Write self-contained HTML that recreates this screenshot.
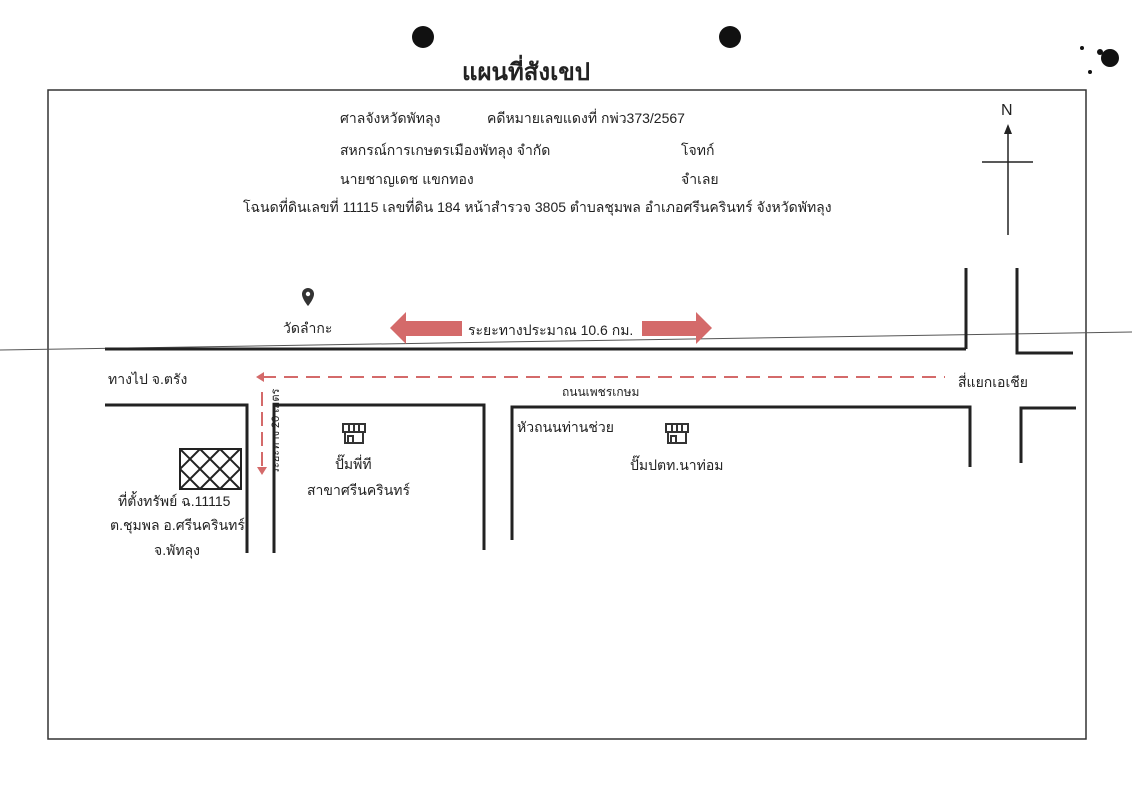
<!DOCTYPE html>
<html><head><meta charset="utf-8">
<style>
body{margin:0;width:1132px;height:800px;background:#fff;overflow:hidden;position:relative;font-family:"Liberation Sans","DejaVu Sans","Noto Sans CJK SC",sans-serif;color:#222}
.t{position:absolute;font-size:14px;white-space:nowrap}
</style></head><body>
<svg width="1132" height="800" style="position:absolute;left:0;top:0">
<circle cx="423" cy="37" r="11" fill="#111"/>
<circle cx="730" cy="37" r="11" fill="#111"/>
<rect x="48" y="90" width="1038" height="649" fill="none" stroke="#333" stroke-width="1.5"/>
<line x1="0" y1="350" x2="1132" y2="332" stroke="#555" stroke-width="1"/>
<g stroke="#222" stroke-width="3" fill="none">
<line x1="105" y1="349" x2="966" y2="349"/>
<polyline points="966,268 966,349"/>
<polyline points="1017,268 1017,353 1073,353"/>
<polyline points="105,405 247,405 247,553"/>
<polyline points="274,553 274,405 484,405 484,550"/>
<polyline points="512,540 512,407 970,407 970,467"/>
<polyline points="1021,463 1021,408 1076,408"/>
</g>
<line x1="1008" y1="130" x2="1008" y2="235" stroke="#222" stroke-width="1.5"/>
<line x1="982" y1="162" x2="1033" y2="162" stroke="#222" stroke-width="1.5"/>
<polygon points="1008,124 1004,134 1012,134" fill="#222"/>
<polygon points="390,328 406,312 406,321 462,321 462,336 406,336 406,344" fill="#d46a6a"/>
<polygon points="712,328 696,312 696,321 642,321 642,336 696,336 696,344" fill="#d46a6a"/>
<line x1="262" y1="377" x2="945" y2="377" stroke="#d46a6a" stroke-width="2" stroke-dasharray="14,8"/>
<polygon points="256,377 264,372 264,382" fill="#d46a6a"/>
<line x1="262" y1="392" x2="262" y2="468" stroke="#d46a6a" stroke-width="2" stroke-dasharray="14,6"/>
<polygon points="262,475 257,467 267,467" fill="#d46a6a"/>
<rect x="180" y="449" width="61" height="40" fill="none" stroke="#222" stroke-width="2"/>
<clipPath id="c"><rect x="180" y="449" width="61" height="40"/></clipPath>
<g clip-path="url(#c)" stroke="#222" stroke-width="2">
<line x1="160" y1="449" x2="200" y2="489"/><line x1="180" y1="449" x2="220" y2="489"/><line x1="200" y1="449" x2="240" y2="489"/><line x1="220" y1="449" x2="260" y2="489"/><line x1="140" y1="449" x2="180" y2="489"/>
<line x1="200" y1="449" x2="160" y2="489"/><line x1="220" y1="449" x2="180" y2="489"/><line x1="240" y1="449" x2="200" y2="489"/><line x1="260" y1="449" x2="220" y2="489"/><line x1="280" y1="449" x2="240" y2="489"/>
</g>
<path d="M302,294 a6,6 0 1,1 12,0 c0,5 -6,12 -6,12 c0,0 -6,-7 -6,-12z" fill="#333"/>
<circle cx="308" cy="294" r="2.2" fill="#fff"/>
<g fill="none" stroke="#333" stroke-width="2">
<rect x="343" y="424" width="22" height="8"/><line x1="349" y1="424" x2="349" y2="432"/><line x1="354" y1="424" x2="354" y2="432"/><line x1="359" y1="424" x2="359" y2="432"/>
<polyline points="345,432 345,443 363,443 363,432"/><rect x="348" y="436" width="5" height="7"/>
<rect x="666" y="424" width="22" height="8"/><line x1="672" y1="424" x2="672" y2="432"/><line x1="677" y1="424" x2="677" y2="432"/><line x1="682" y1="424" x2="682" y2="432"/>
<polyline points="668,432 668,443 686,443 686,432"/><rect x="671" y="436" width="5" height="7"/>
</g>
<g fill="#111"><circle cx="1110" cy="58" r="9"/><circle cx="1100" cy="52" r="3"/><circle cx="1082" cy="48" r="2"/><circle cx="1090" cy="72" r="2"/></g>
</svg>
<div class="t" style="left:462px;top:52px;font-size:24px;font-weight:bold">แผนที่สังเขป</div>
<div class="t" style="left:340px;top:108px">ศาลจังหวัดพัทลุง</div>
<div class="t" style="left:487px;top:108px">คดีหมายเลขแดงที่ กพ่ว373/2567</div>
<div class="t" style="left:340px;top:140px">สหกรณ์การเกษตรเมืองพัทลุง จำกัด</div>
<div class="t" style="left:681px;top:140px">โจทก์</div>
<div class="t" style="left:340px;top:169px">นายชาญเดช แขกทอง</div>
<div class="t" style="left:681px;top:169px">จำเลย</div>
<div class="t" style="left:243px;top:197px">โฉนดที่ดินเลขที่ 11115 เลขที่ดิน 184 หน้าสำรวจ 3805 ตำบลชุมพล อำเภอศรีนครินทร์ จังหวัดพัทลุง</div>
<div class="t" style="left:1001px;top:102px;font-size:16px">N</div>
<div class="t" style="left:283px;top:318px">วัดลำกะ</div>
<div class="t" style="left:468px;top:320px">ระยะทางประมาณ 10.6 กม.</div>
<div class="t" style="left:108px;top:369px">ทางไป จ.ตรัง</div>
<div class="t" style="left:958px;top:372px">สี่แยกเอเชีย</div>
<div class="t" style="left:562px;top:383px;font-size:12px">ถนนเพชรเกษม</div>
<div class="t" style="left:517px;top:417px">หัวถนนท่านช่วย</div>
<div class="t" style="left:335px;top:454px">ปั๊มพี่ที</div>
<div class="t" style="left:307px;top:480px">สาขาศรีนครินทร์</div>
<div class="t" style="left:630px;top:455px">ปั๊มปตท.นาท่อม</div>
<div class="t" style="left:118px;top:491px">ที่ตั้งทรัพย์ ฉ.11115</div>
<div class="t" style="left:110px;top:515px">ต.ชุมพล อ.ศรีนครินทร์</div>
<div class="t" style="left:154px;top:540px">จ.พัทลุง</div>
<div class="t" style="left:266px;top:474px;font-size:11px;transform:rotate(-90deg);transform-origin:0 0">ระยะทาง 20 เมตร</div>
</body></html>
